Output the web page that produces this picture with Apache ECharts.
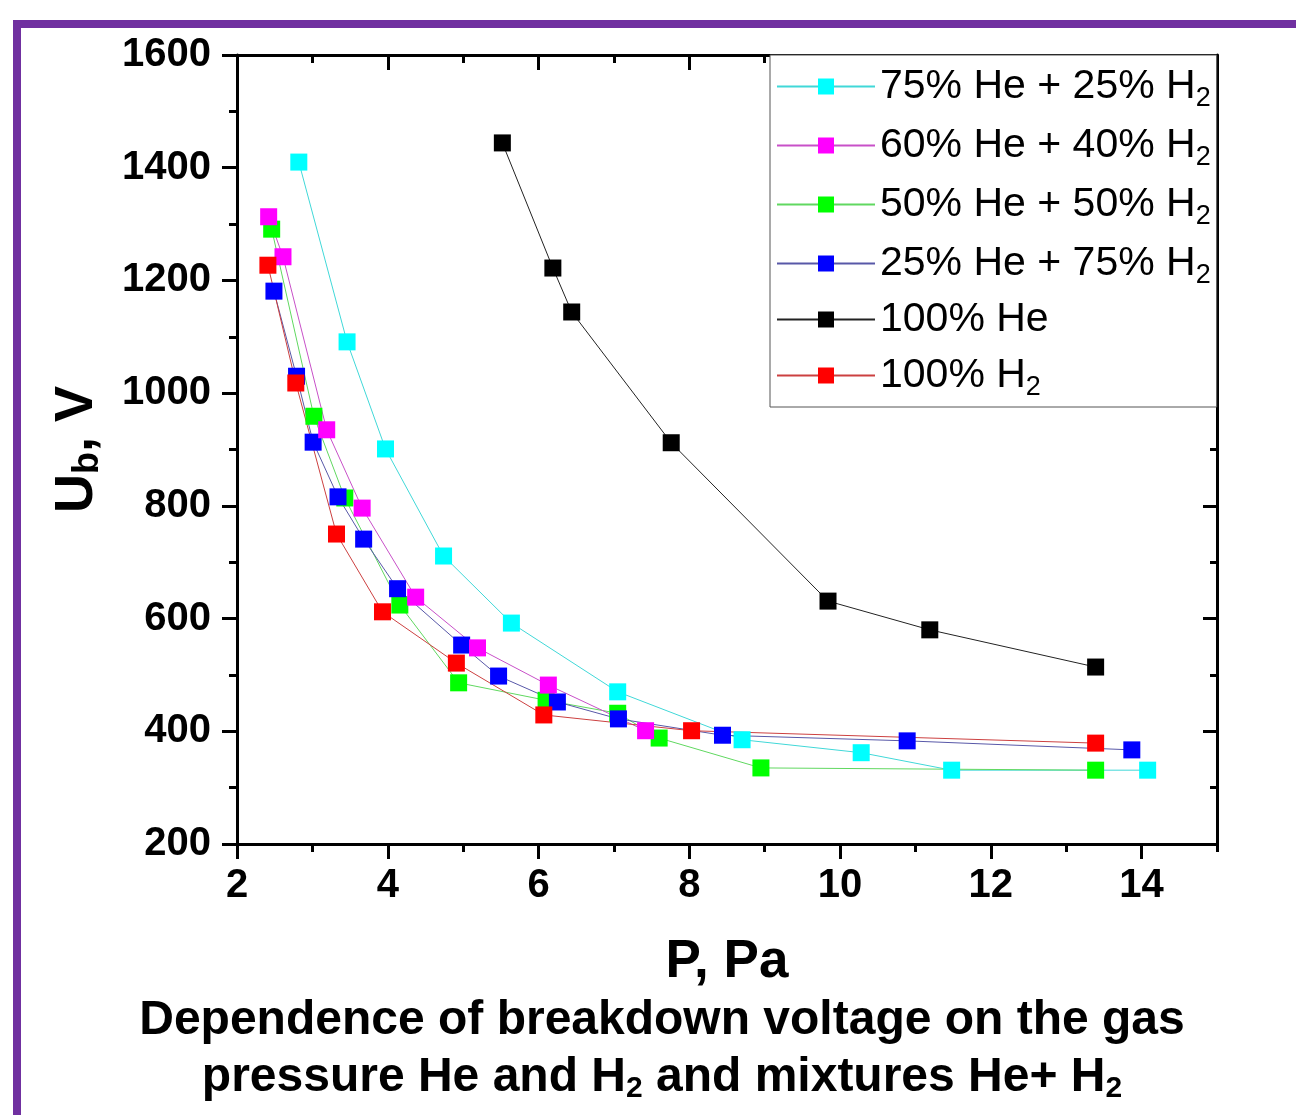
<!DOCTYPE html>
<html>
<head>
<meta charset="utf-8">
<title>Breakdown voltage</title>
<script src="https://cdn.jsdelivr.net/npm/echarts@6/dist/echarts.min.js"></script>
<style>
  html, body { margin: 0; padding: 0; background: #fff; }
  #chart-ub { width: 1296px; height: 1115px; }
</style>
</head>
<body>
<div id="chart-ub"></div>
<script>
// P, Pa  /  Ub, V
var he75_p  = [2.82, 3.46, 3.97, 4.74, 5.64, 7.05, 8.70, 10.28, 11.48, 14.08];
var he75_u  = [1410, 1091, 901, 711, 592, 470, 385, 362, 331, 331];
var he60_p  = [2.42, 2.61, 3.19, 3.66, 4.37, 5.19, 6.13, 7.42];
var he60_u  = [1313, 1242, 935, 796, 638, 548, 482, 401];
var he50_p  = [2.46, 3.02, 3.43, 4.16, 4.94, 6.10, 7.05, 7.60, 8.95, 13.39];
var he50_u  = [1291, 959, 814, 624, 486, 455, 432, 388, 335, 331];
var he25_p  = [2.49, 2.79, 3.01, 3.34, 3.68, 4.13, 4.98, 5.47, 6.25, 7.06, 8.44, 10.89, 13.87];
var he25_u  = [1181, 1030, 913, 816, 741, 653, 553, 498, 452, 422, 393, 383, 367];
var he100_p = [5.52, 6.19, 6.44, 7.76, 9.84, 11.19, 13.39];
var he100_u = [1444, 1222, 1144, 912, 631, 580, 514];
var h2_p    = [2.41, 2.78, 3.32, 3.93, 4.91, 6.07, 8.03, 13.39];
var h2_u    = [1227, 1018, 750, 612, 521, 429, 401, 379];

var legendNames = ['75% He + 25% H2', '60% He + 40% H2', '50% He + 50% H2',
                   '25% He + 75% H2', '100% He', '100% H2'];

function pairs(xs, ys) {
  var out = [];
  for (var i = 0; i < xs.length; i++) out.push([xs[i], ys[i]]);
  return out;
}

function mkSeries(name, xs, ys, fill, line) {
  return {
    name: name,
    type: 'line',
    xAxisIndex: 0,
    yAxisIndex: 0,
    data: pairs(xs, ys),
    symbol: 'rect',
    symbolSize: 17,
    showAllSymbol: true,
    itemStyle: { color: fill },
    lineStyle: { color: line, width: 1 },
    emphasis: { disabled: true },
    animation: false
  };
}

var FONT = 'Liberation Sans, Arial, sans-serif';
var AXC = '#000';

var myChart = echarts.init(document.getElementById('chart-ub'));

var option = {
  animation: false,
  graphic: [{
    type: 'rect',
    silent: true,
    shape: { x: 17, y: 24, width: 1400, height: 1200 },
    style: { fill: null, stroke: '#7030a0', lineWidth: 8 }
  }],
  title: {
    text: '{b|Dependence of breakdown voltage on the gas}\n{b|pressure He and H}{s|2}{b| and mixtures He+ H}{s|2}',
    left: 657,
    top: 987,
    textAlign: 'center',
    textStyle: {
      fontFamily: FONT,
      rich: {
        b: { fontSize: 48, fontWeight: 'bold', color: '#000', lineHeight: 57, fontFamily: FONT },
        s: { fontSize: 30, fontWeight: 'bold', color: '#000', lineHeight: 57, padding: [22, 0, 0, 0], fontFamily: FONT }
      }
    }
  },
  legend: {
    data: legendNames,
    orient: 'vertical',
    left: 770,
    top: 55,
    padding: [6, 6, 6, 6],
    itemGap: 8,
    itemWidth: 98,
    itemHeight: 20,
    backgroundColor: '#fff',
    borderColor: '#555',
    borderWidth: 1,
    selectedMode: false,
    formatter: function (name) {
      return name.replace(/H2$/, 'H{sub|2}').replace(/^(.*?)H\{/, '{t|$1H}{');
    },
    textStyle: {
      fontFamily: FONT,
      fontSize: 41,
      color: '#000',
      lineHeight: 45,
      rich: {
        t: { fontSize: 41, lineHeight: 45, fontFamily: FONT, color: '#000' },
        sub: { fontSize: 27, lineHeight: 45, padding: [24, 0, 0, 0], fontFamily: FONT, color: '#000' }
      }
    }
  },
  grid: { left: 237, right: 79, top: 55, bottom: 271 },
  xAxis: [
    {
      type: 'value', position: 'bottom', min: 2, max: 15, interval: 2,
      name: 'P, Pa', nameLocation: 'middle', nameGap: 92,
      nameTextStyle: { fontFamily: FONT, fontSize: 53, fontWeight: 'bold', color: '#000' },
      axisLine: { onZero: false, lineStyle: { color: AXC, width: 3 } },
      axisTick: { inside: false, length: 15, lineStyle: { color: AXC, width: 3 } },
      axisLabel: { margin: 22, showMaxLabel: false, fontFamily: FONT, fontSize: 40, fontWeight: 'bold', color: '#000' },
      splitLine: { show: false }
    },
    {
      type: 'value', position: 'bottom', min: 2, max: 15, interval: 1,
      axisLine: { show: false, onZero: false },
      axisTick: { inside: false, length: 8, lineStyle: { color: AXC, width: 3 } },
      axisLabel: { show: false },
      splitLine: { show: false }
    },
    {
      type: 'value', position: 'top', min: 2, max: 15, interval: 2,
      axisLine: { onZero: false, lineStyle: { color: AXC, width: 3 } },
      axisTick: { inside: true, length: 15, lineStyle: { color: AXC, width: 3 } },
      axisLabel: { show: false },
      splitLine: { show: false }
    },
    {
      type: 'value', position: 'top', min: 2, max: 15, interval: 1,
      axisLine: { show: false, onZero: false },
      axisTick: { inside: true, length: 8, lineStyle: { color: AXC, width: 3 } },
      axisLabel: { show: false },
      splitLine: { show: false }
    }
  ],
  yAxis: [
    {
      type: 'value', position: 'left', min: 200, max: 1600, interval: 200,
      name: 'U{sub|b}, V', nameLocation: 'middle', nameGap: 131, nameRotate: 90,
      nameTextStyle: {
        fontFamily: FONT, fontSize: 54, fontWeight: 'bold', color: '#000',
        rich: {
          sub: { fontFamily: FONT, fontSize: 36, fontWeight: 'bold', color: '#000', padding: [22, 0, 0, 0] }
        }
      },
      axisLine: { onZero: false, lineStyle: { color: AXC, width: 3 } },
      axisTick: { inside: false, length: 15, lineStyle: { color: AXC, width: 3 } },
      minorTick: { show: true, splitNumber: 2, length: 8, lineStyle: { color: AXC, width: 3 } },
      axisLabel: {
        margin: 26, fontFamily: FONT, fontSize: 40, fontWeight: 'bold', color: '#000',
        formatter: function (v) { return String(v); }
      },
      splitLine: { show: false },
      minorSplitLine: { show: false }
    },
    {
      type: 'value', position: 'right', min: 200, max: 1600, interval: 200,
      axisLine: { onZero: false, lineStyle: { color: AXC, width: 3 } },
      axisTick: { inside: true, length: 14, lineStyle: { color: AXC, width: 3 } },
      minorTick: { show: true, splitNumber: 2, length: 7, lineStyle: { color: AXC, width: 3 } },
      axisLabel: { show: false },
      splitLine: { show: false },
      minorSplitLine: { show: false }
    }
  ],
  series: [
    mkSeries('75% He + 25% H2', he75_p, he75_u, '#00ffff', '#40d8d8'),
    mkSeries('50% He + 50% H2', he50_p, he50_u, '#00ff00', '#60d860'),
    mkSeries('25% He + 75% H2', he25_p, he25_u, '#0000ff', '#5858a8'),
    mkSeries('60% He + 40% H2', he60_p, he60_u, '#ff00ff', '#c850c8'),
    mkSeries('100% He', he100_p, he100_u, '#000000', '#222222'),
    mkSeries('100% H2', h2_p, h2_u, '#ff0000', '#cc4040')
  ]
};

myChart.setOption(option);

window.addEventListener('resize', function () {
  myChart.resize();
});
</script>
</body>
</html>
